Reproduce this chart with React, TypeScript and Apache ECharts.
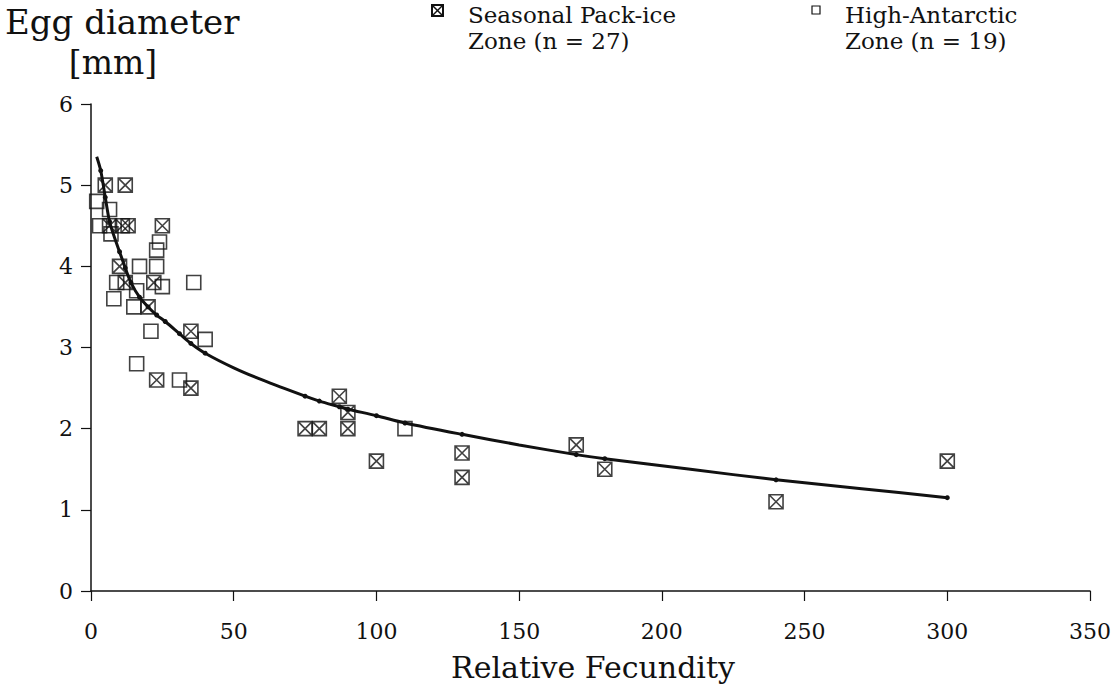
import React, { useEffect, useRef } from "react";
import * as echarts from "echarts";

// Seasonal Pack-ice Zone (crossed squares)
const seasonalX = [5, 12, 6.5, 11, 13, 25, 10, 12, 22, 20, 35, 23, 35, 87, 90, 75, 80, 90, 100, 130, 130, 170, 180, 240, 300];
const seasonalY = [5, 5, 4.5, 4.5, 4.5, 4.5, 4, 3.8, 3.8, 3.5, 3.2, 2.6, 2.5, 2.4, 2.2, 2, 2, 2, 1.6, 1.7, 1.4, 1.8, 1.5, 1.1, 1.6];

// High-Antarctic Zone (open squares)
const highX = [2, 6.5, 3, 7, 24, 23, 17, 23, 9, 8, 16, 25, 36, 15, 21, 40, 16, 31, 110];
const highY = [4.8, 4.7, 4.5, 4.4, 4.3, 4.2, 4.0, 4.0, 3.8, 3.6, 3.7, 3.75, 3.8, 3.5, 3.2, 3.1, 2.8, 2.6, 2.0];

// Fitted curve
const curveX = [2, 3.4, 5, 6.5, 8, 10, 12, 14, 17, 20, 23, 26, 31, 35, 40, 50, 60, 75, 80, 87, 90, 100, 110, 130, 150, 170, 180, 210, 240, 270, 300];
const curveY = [5.35, 5.18, 4.85, 4.55, 4.38, 4.18, 3.98, 3.8, 3.62, 3.5, 3.4, 3.32, 3.17, 3.05, 2.93, 2.75, 2.6, 2.4, 2.34, 2.27, 2.24, 2.16, 2.07, 1.93, 1.8, 1.68, 1.63, 1.5, 1.37, 1.26, 1.15];
// curve points that carry a small dot
const curveDotted = [false, true, true, true, false, true, true, true, true, true, true, true, true, true, true, false, false, true, true, true, true, true, true, true, false, true, true, false, true, false, true];

const xTicks = { min: 0, max: 350, interval: 50 };
const yTicks = { min: 0, max: 6, interval: 1 };

const FONT = "DejaVu Serif";
const INK = "#111";
const CROSS_PATH = "path://M0 0H12V12H0ZM0 0L12 12M12 0L0 12";

export default function App() {
  const ref = useRef<HTMLDivElement>(null);

  useEffect(() => {
    if (!ref.current) return;
    const chart = echarts.init(ref.current, undefined, { renderer: "svg" });

    const curveData = curveX.map((x, i) =>
      curveDotted[i] ? [x, curveY[i]] : { value: [x, curveY[i]], symbol: "none" }
    );

    chart.setOption({
      animation: false,
      backgroundColor: "#fff",
      textStyle: { fontFamily: FONT, color: INK },
      grid: { left: 91, right: 25, top: 104, bottom: 97, containLabel: false },
      xAxis: {
        type: "value",
        min: xTicks.min,
        max: xTicks.max,
        interval: xTicks.interval,
        axisLine: { show: true, lineStyle: { color: INK, width: 1.5 } },
        axisTick: { show: true, length: 10, lineStyle: { color: INK, width: 1.2 } },
        axisLabel: { fontFamily: FONT, fontSize: 22, color: INK, margin: 29 },
        splitLine: { show: false },
      },
      yAxis: {
        type: "value",
        min: yTicks.min,
        max: yTicks.max,
        interval: yTicks.interval,
        axisLine: { show: true, lineStyle: { color: INK, width: 1.5 } },
        axisTick: { show: true, length: 10, lineStyle: { color: INK, width: 1.2 } },
        axisLabel: { fontFamily: FONT, fontSize: 22, color: INK, margin: 18 },
        splitLine: { show: false },
      },
      graphic: [
        {
          type: "text",
          left: 5,
          top: 5,
          style: { text: "Egg diameter", fontFamily: FONT, fontSize: 34, fill: INK },
        },
        {
          type: "text",
          x: 113,
          y: 62,
          style: { text: "[mm]", fontFamily: FONT, fontSize: 33, fill: INK, align: "center", verticalAlign: "middle" },
        },
        {
          type: "text",
          x: 593,
          y: 667,
          style: { text: "Relative Fecundity", fontFamily: "DejaVu Serif, Liberation Serif, serif", fontSize: 30, fontWeight: "normal", fill: INK, align: "center", verticalAlign: "middle" },
        },
        // Legend: Seasonal Pack-ice
        {
          type: "group",
          x: 432,
          y: 5,
          children: [
            { type: "rect", shape: { x: 0, y: 0, width: 11, height: 11 }, style: { fill: "#fff", stroke: INK, lineWidth: 2 } },
            { type: "line", shape: { x1: 0, y1: 0, x2: 11, y2: 11 }, style: { stroke: INK, lineWidth: 1.5 } },
            { type: "line", shape: { x1: 11, y1: 0, x2: 0, y2: 11 }, style: { stroke: INK, lineWidth: 1.5 } },
          ],
        },
        {
          type: "text",
          x: 468,
          y: 2,
          style: {
            text: "Seasonal Pack-ice\nZone (n = 27)",
            fontFamily: FONT,
            fontSize: 23,
            lineHeight: 26,
            fill: INK,
            align: "left",
            verticalAlign: "top",
          },
        },
        // Legend: High-Antarctic
        {
          type: "rect",
          shape: { x: 812, y: 6, width: 8, height: 8 },
          style: { fill: "#fff", stroke: INK, lineWidth: 1.2 },
        },
        {
          type: "text",
          x: 845,
          y: 2,
          style: {
            text: "High-Antarctic\nZone (n = 19)",
            fontFamily: FONT,
            fontSize: 23,
            lineHeight: 26,
            fill: INK,
            align: "left",
            verticalAlign: "top",
          },
        },
      ],
      series: [
        {
          name: "Seasonal Pack-ice Zone (n = 27)",
          type: "scatter",
          symbol: CROSS_PATH,
          symbolSize: 14,
          itemStyle: { color: "rgba(255,255,255,0)", borderColor: INK, borderWidth: 1.6 },
          data: seasonalX.map((x, i) => [x, seasonalY[i]]),
          z: 3,
        },
        {
          name: "High-Antarctic Zone (n = 19)",
          type: "scatter",
          symbol: "rect",
          symbolSize: 14,
          itemStyle: { color: "rgba(255,255,255,0)", borderColor: INK, borderWidth: 1.6 },
          data: highX.map((x, i) => [x, highY[i]]),
          z: 3,
        },
        {
          name: "Fit",
          type: "line",
          smooth: 0.3,
          symbol: "circle",
          symbolSize: 5,
          showSymbol: true,
          itemStyle: { color: INK },
          lineStyle: { color: INK, width: 3 },
          data: curveData,
          z: 4,
        },
      ],
    });

    return () => chart.dispose();
  }, []);

  return (
    <div
      ref={ref}
      style={{ position: "absolute", left: 0, top: 0, width: 1115, height: 688, background: "#fff" }}
    />
  );
}
